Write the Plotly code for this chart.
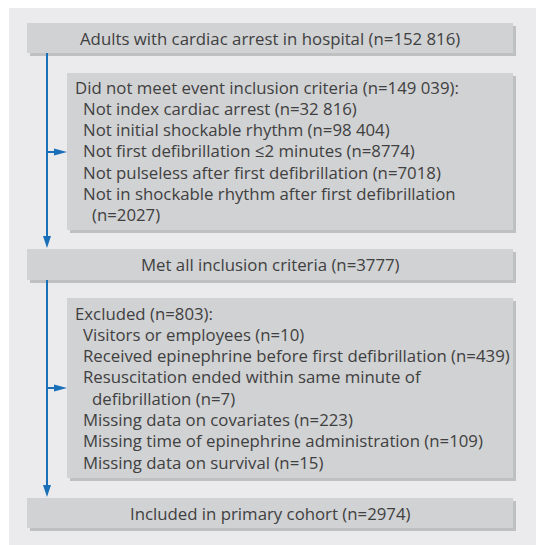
import plotly.graph_objects as go

# ---- data (text content) ----
top_box_text = "Adults with cardiac arrest in hospital (n=152 816)"
excl1_header = "Did not meet event inclusion criteria (n=149 039):"
excl1_items = [
    "Not index cardiac arrest (n=32 816)",
    "Not initial shockable rhythm (n=98 404)",
    "Not first defibrillation ≤2 minutes (n=8774)",
    "Not pulseless after first defibrillation (n=7018)",
    "Not in shockable rhythm after first defibrillation",
    "(n=2027)",
]
excl1_indent = [1, 1, 1, 1, 1, 2]
mid_box_text = "Met all inclusion criteria (n=3777)"
excl2_header = "Excluded (n=803):"
excl2_items = [
    "Visitors or employees (n=10)",
    "Received epinephrine before first defibrillation (n=439)",
    "Resuscitation ended within same minute of",
    "defibrillation (n=7)",
    "Missing data on covariates (n=223)",
    "Missing time of epinephrine administration (n=109)",
    "Missing data on survival (n=15)",
]
excl2_indent = [1, 1, 1, 2, 1, 1, 1]
bottom_box_text = "Included in primary cohort (n=2974)"

W, H = 544, 545
OFF = 8  # page body margin offset
PANEL = "#ebebed"
BOX = "#d1d2d4"
SHADOW = "#bfc0c2"
TXT = "#404040"
BLUE = "#1a6fb9"
FONT = "Open Sans"
FS = 16.8

fig = go.Figure()
shapes = []
annots = []

def rect(x0, y0, x1, y1, color):
    shapes.append(dict(type="rect", x0=x0, y0=y0, x1=x1, y1=y1, xref="x", yref="y",
                       fillcolor=color, line=dict(width=0), layer="below"))

def box(x0, y0, x1, y1):
    rect(x0 + 3, y0 + 3, x1 + 3, y1 + 3, SHADOW)
    rect(x0, y0, x1, y1, BOX)

def text(x, y, s, anchor="left"):
    annots.append(dict(x=x, y=y, xref="x", yref="y", text=s, showarrow=False,
                       xanchor=anchor, yanchor="middle", borderpad=0,
                       font=dict(family=FONT, size=FS, color=TXT)))

# panel
rect(9, 4, W + 10, H + 10, PANEL)

# boxes
box(27, 23, 513, 53)
box(67, 73, 513, 230)
box(27, 249, 513, 280)
box(67, 298, 513, 478)
box(27, 498, 513, 528)

# texts
text(270, 38, top_box_text, "center")
text(270, 264.5, mid_box_text, "center")
text(270, 513, bottom_box_text, "center")

LS = 21.3
indent_x = {1: 82, 2: 91}
text(74, 87, excl1_header)
for i, (s, ind) in enumerate(zip(excl1_items, excl1_indent)):
    text(indent_x[ind], 87 + LS * (i + 1), s)
text(74, 313, excl2_header)
for i, (s, ind) in enumerate(zip(excl2_items, excl2_indent)):
    text(indent_x[ind], 313 + LS * (i + 1), s)

# arrows
def line(x0, y0, x1, y1):
    shapes.append(dict(type="line", x0=x0, y0=y0, x1=x1, y1=y1, xref="x", yref="y",
                       line=dict(color=BLUE, width=2)))

def path(d):
    shapes.append(dict(type="path", path=d, xref="x", yref="y",
                       fillcolor=BLUE, line=dict(width=0)))

AX = 47
line(AX, 53, AX, 238)
path(f"M {AX-4},236 L {AX+4},236 L {AX},248 Z")
line(AX, 152, 56, 152)
path(f"M 54,148.5 L 67,152 L 54,155.5 Z")

line(AX, 280, AX, 487)
path(f"M {AX-4},485 L {AX+4},485 L {AX},497 Z")
line(AX, 388, 56, 388)
path(f"M 54,384.5 L 67,388 L 54,391.5 Z")

fig.update_layout(
    width=W - OFF, height=H - OFF,
    margin=dict(l=0, r=0, t=0, b=0),
    paper_bgcolor="white", plot_bgcolor="white",
    xaxis=dict(range=[OFF, W], visible=False, fixedrange=True),
    yaxis=dict(range=[H, OFF], visible=False, fixedrange=True),
    shapes=shapes, annotations=annots, showlegend=False,
)
fig.write_html("out.html")
